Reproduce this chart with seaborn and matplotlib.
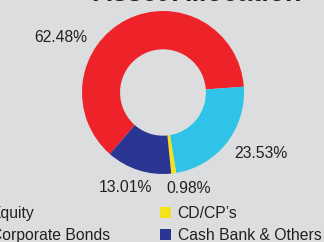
import matplotlib
matplotlib.use("Agg")
import matplotlib.pyplot as plt
from matplotlib.patches import Patch
import seaborn as sns

categories = ["Equity", "Corporate Bonds", "CD/CP\u2019s", "Cash Bank & Others"]
values = [62.48, 23.53, 0.98, 13.01]
labels = ["62.48%", "23.53%", "0.98%", "13.01%"]
colors = ["#ee2229", "#2fc3e8", "#f6e21b", "#2a3692"]
title = "Asset Allocation"

# label text positions (data units, pie radius = 1)
label_pos = [(-1.259, 0.679), (1.207, -0.747), (0.315, -1.173), (-0.469, -1.16)]

bg = "#dcdddf"
txt = "#231f20"
sns.set_theme(style="white", rc={"figure.facecolor": bg, "axes.facecolor": bg})
plt.rcParams["font.family"] = ["Liberation Sans", "DejaVu Sans"]

fig = plt.figure(figsize=(3.24, 2.42), dpi=100)
fig.patch.set_facecolor(bg)
ax = fig.add_axes([82 / 324, (242 - 174) / 242, 162 / 324, 163 / 242])
ax.set_facecolor(bg)

wedges, _ = ax.pie(values, colors=colors, startangle=229, counterclock=False,
                   radius=1.0, wedgeprops=dict(width=0.47, edgecolor="none"))
ax.set_xlim(-1, 1)
ax.set_ylim(-1, 1)
ax.set_aspect("auto")
ax.axis("off")

for (x, y), lab in zip(label_pos, labels):
    ax.text(x, y, lab, ha="center", va="center", fontsize=11.3, color=txt, clip_on=False)

fig.text(197 / 324, (242 - 1) / 242, title, ha="center", va="baseline",
         fontsize=19.3, fontweight="bold", color=txt)

handles = [Patch(facecolor=c, edgecolor="none") for c in colors]
fig.legend(handles, categories, ncol=2, loc="upper left",
           bbox_to_anchor=(-27 / 324, (242 - 206) / 242),
           frameon=False, fontsize=11.3, handlelength=0.7, handleheight=0.7,
           handletextpad=0.45, columnspacing=3.15, labelspacing=0.45,
           borderpad=0, borderaxespad=0, labelcolor=txt)

fig.savefig("out.png", dpi=100, facecolor=bg)
